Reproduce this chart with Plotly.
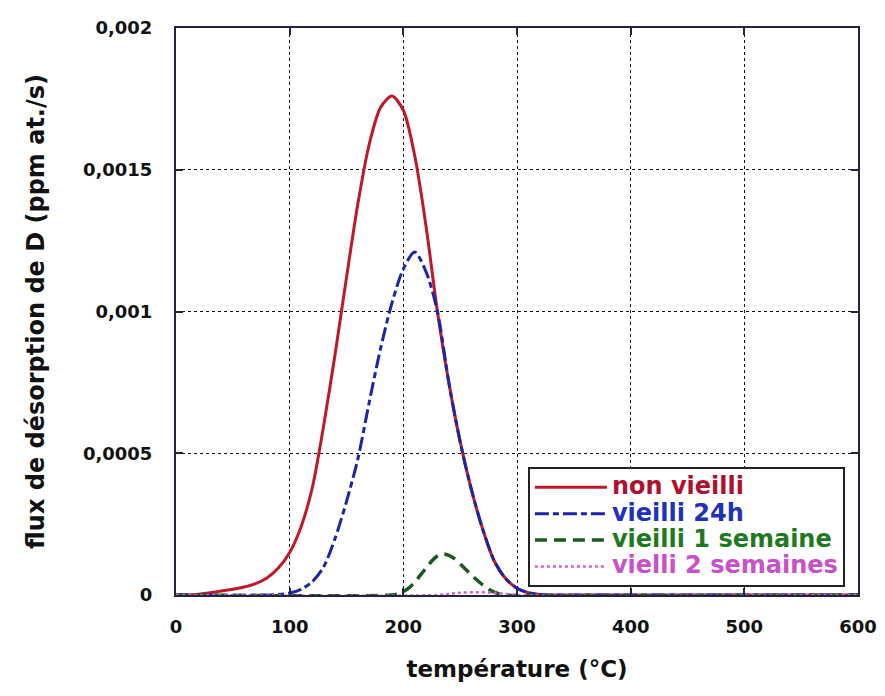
import plotly.graph_objects as go

# ---- data ----
t_non = [0, 10, 20, 30, 40, 50, 60, 70, 80, 90, 100, 110, 120, 130, 140, 150, 160, 170, 180, 190,
         200, 210, 220, 230, 240, 250, 260, 270, 280, 290, 300, 310, 320, 330, 400, 500, 600]
v_non = [0, 0, 0.000003, 0.000008, 0.000014, 0.00002, 0.000028, 0.00004, 0.00006, 0.000095,
         0.00015, 0.00024, 0.00038, 0.0006, 0.00085, 0.00112, 0.00138, 0.00159, 0.00172, 0.00176,
         0.00171, 0.00155, 0.0013, 0.001, 0.00075, 0.00054, 0.00037, 0.00023, 0.00012, 0.000058,
         0.000024, 0.000008, 0.000002, 0, 0, 0, 0]

t_24h = [0, 80, 90, 100, 110, 120, 130, 140, 150, 160, 170, 180, 190, 200, 210, 220, 230, 240,
         250, 260, 270, 280, 290, 300, 310, 320, 330, 400, 500, 600]
v_24h = [0, 0, 0.000002, 0.000007, 0.00002, 0.000047, 0.0001, 0.0002, 0.00033, 0.00048, 0.00068,
         0.00087, 0.00103, 0.00115, 0.00121, 0.00114, 0.001, 0.00075, 0.00054, 0.00037, 0.00023,
         0.00012, 0.000058, 0.000024, 0.000008, 0.000002, 0, 0, 0, 0]

t_1sem = [0, 190, 195, 200, 205, 210, 215, 220, 225, 230, 235, 240, 245, 250, 255, 260, 265, 270,
          275, 280, 285, 290, 600]
v_1sem = [0, 0, 0.000004, 0.000012, 0.000025, 0.000045, 0.00007, 0.000095, 0.00012, 0.000138,
          0.000145, 0.00014, 0.000128, 0.00011, 0.00009, 0.00007, 0.000052, 0.000035, 0.00002,
          0.00001, 0.000003, 0, 0]

t_2sem = [0, 230, 250, 265, 280, 300, 600]
v_2sem = [0, 0, 0.000008, 0.00001, 0.000008, 0, 0]

x_ticks = [0, 100, 200, 300, 400, 500, 600]
x_ticktext = ["0", "100", "200", "300", "400", "500", "600"]
y_ticks = [0, 0.0005, 0.001, 0.0015, 0.002]
y_ticktext = ["0", "0,0005", "0,001", "0,0015", "0,002"]

names = ["non vieilli", "vieilli 24h", "vieilli 1 semaine", "vielli 2 semaines"]

FONT = "DejaVu Sans"

fig = go.Figure()
series = [
    (t_non, v_non, names[0], "#c0182b", "#b01030", "solid", 3),
    (t_24h, v_24h, names[1], "#1c24a8", "#2032b8", "14px,4px,6px,4px", 3),
    (t_1sem, v_1sem, names[2], "#1a5a1a", "#1f7a1f", "12px,7px", 3.5),
    (t_2sem, v_2sem, names[3], "#d060d0", "#c850c8", "dot", 2.5),
]
for tx, vy, nm, lc, tc, dash, w in series:
    fig.add_trace(go.Scatter(
        x=tx, y=vy, mode="lines",
        name=f"<span style='color:{tc};font-size:24px'>{nm}</span>",
        line=dict(color=lc, width=w, dash=dash, shape="spline", smoothing=0.8),
    ))

axis_common = dict(
    showline=True, linecolor="#23233f", linewidth=2, mirror="ticks",
    ticks="inside", ticklen=7, tickwidth=1.5, tickcolor="#23233f",
    showgrid=True, gridcolor="#111111", gridwidth=1, griddash="dot",
    zeroline=False,
    tickfont=dict(family=FONT, size=18, color="#111111", weight="bold"),
)

fig.update_layout(
    width=869, height=680,
    margin=dict(l=168, r=19, t=20, b=93, autoexpand=False),
    paper_bgcolor="white", plot_bgcolor="white",
    font=dict(family=FONT, color="#111111"),
    xaxis=dict(
        range=[0, 600], tickvals=x_ticks, ticktext=x_ticktext,
        ticklabelstandoff=14,
        title=dict(text="température (°C)",
                   font=dict(family=FONT, size=23, color="#111111", weight="bold"),
                   standoff=25),
        **axis_common,
    ),
    yaxis=dict(
        range=[0, 0.002], tickvals=y_ticks, ticktext=y_ticktext,
        ticklabelstandoff=18,
        title=dict(text="flux de désorption de D (ppm at./s)",
                   font=dict(family=FONT, size=24, color="#111111", weight="bold"),
                   standoff=32),
        **axis_common,
    ),
    legend=dict(
        x=0.516, y=0.014, xanchor="left", yanchor="bottom",
        bgcolor="white", bordercolor="#222222", borderwidth=2,
        font=dict(family=FONT, size=18, weight="bold"),
        tracegroupgap=0, itemwidth=72,
    ),
    showlegend=True,
)

fig.write_html("out.html")
